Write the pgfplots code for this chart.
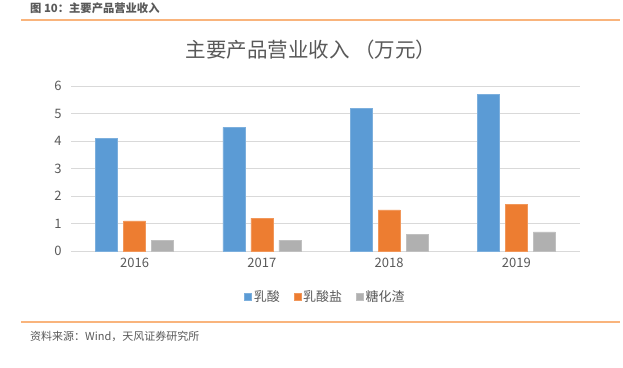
\documentclass[border=0pt]{standalone}
\usepackage{pgfplots}
\pgfplotsset{compat=1.18}
\usepackage{fontspec}
\setmainfont{Noto Sans CJK SC}
\definecolor{cblue}{HTML}{5B9BD5}
\definecolor{corange}{HTML}{ED7D31}
\definecolor{cgray}{HTML}{B0B0B0}
\definecolor{ctxt}{HTML}{595959}
\definecolor{cgrid}{HTML}{D9D9D9}
\definecolor{cline}{HTML}{F9B47C}
\begin{document}
\begin{tikzpicture}
\path[use as bounding box] (0pt,0pt) rectangle (623pt,-367pt);
\node[anchor=west,inner sep=0,font=\fontsize{11.3}{12}\selectfont\bfseries,text=ctxt] at (30pt,-8pt) {图 10：主要产品营业收入};
\draw[cline,line width=1.2pt] (21pt,-20pt) -- (620pt,-20pt);
\draw[cline,line width=1.2pt] (21pt,-322pt) -- (620pt,-322pt);
\node[anchor=west,inner sep=0,font=\fontsize{11}{12}\selectfont,text=ctxt] at (30pt,-336pt) {资料来源：Wind，天风证券研究所};
\node[inner sep=0,font=\fontsize{20.5}{22}\selectfont,text=ctxt] at (311pt,-50pt) {主要产品营业收入 （万元）};
\begin{axis}[
  scale only axis, width=509pt, height=165pt,
  at={(71pt,-251pt)}, anchor=south west,
  ybar=6pt, bar width=22pt,
  xmin=-0.5, xmax=3.5, ymin=0, ymax=6,
  xtick={0,1,2,3}, xticklabels={2016,2017,2018,2019},
  ytick={0,1,2,3,4,5,6},
  ymajorgrids, grid style={cgrid,line width=0.8pt},
  axis x line*=bottom, axis y line*=left,
  x axis line style={cgrid,line width=0.8pt,-},
  y axis line style={draw=none},
  major tick length=0pt,
  tick label style={font=\fontsize{13}{14}\selectfont,text=ctxt},
  /pgf/number format/assume math mode=true,
  yticklabel style={xshift=-6pt},
  xticklabel style={yshift=-4pt},
  legend columns=3,
  legend style={at={(0.5,-0.279)},anchor=center,draw=none,fill=none,
    font=\fontsize{13}{14}\selectfont,text=ctxt,
    /tikz/every even column/.append style={column sep=12pt}},
  legend image code/.code={\fill[#1] (0pt,-3.5pt) rectangle (7pt,3.5pt);},
]
\addplot[fill=cblue,draw=cblue!80!white] coordinates {(0,4.1) (1,4.5) (2,5.2) (3,5.7)};
\addplot[fill=corange,draw=corange!80!white] coordinates {(0,1.1) (1,1.2) (2,1.5) (3,1.7)};
\addplot[fill=cgray,draw=cgray!80!white] coordinates {(0,0.4) (1,0.4) (2,0.6) (3,0.7)};
\legend{乳酸,乳酸盐,糖化渣}
\end{axis}
\end{tikzpicture}
\end{document}
